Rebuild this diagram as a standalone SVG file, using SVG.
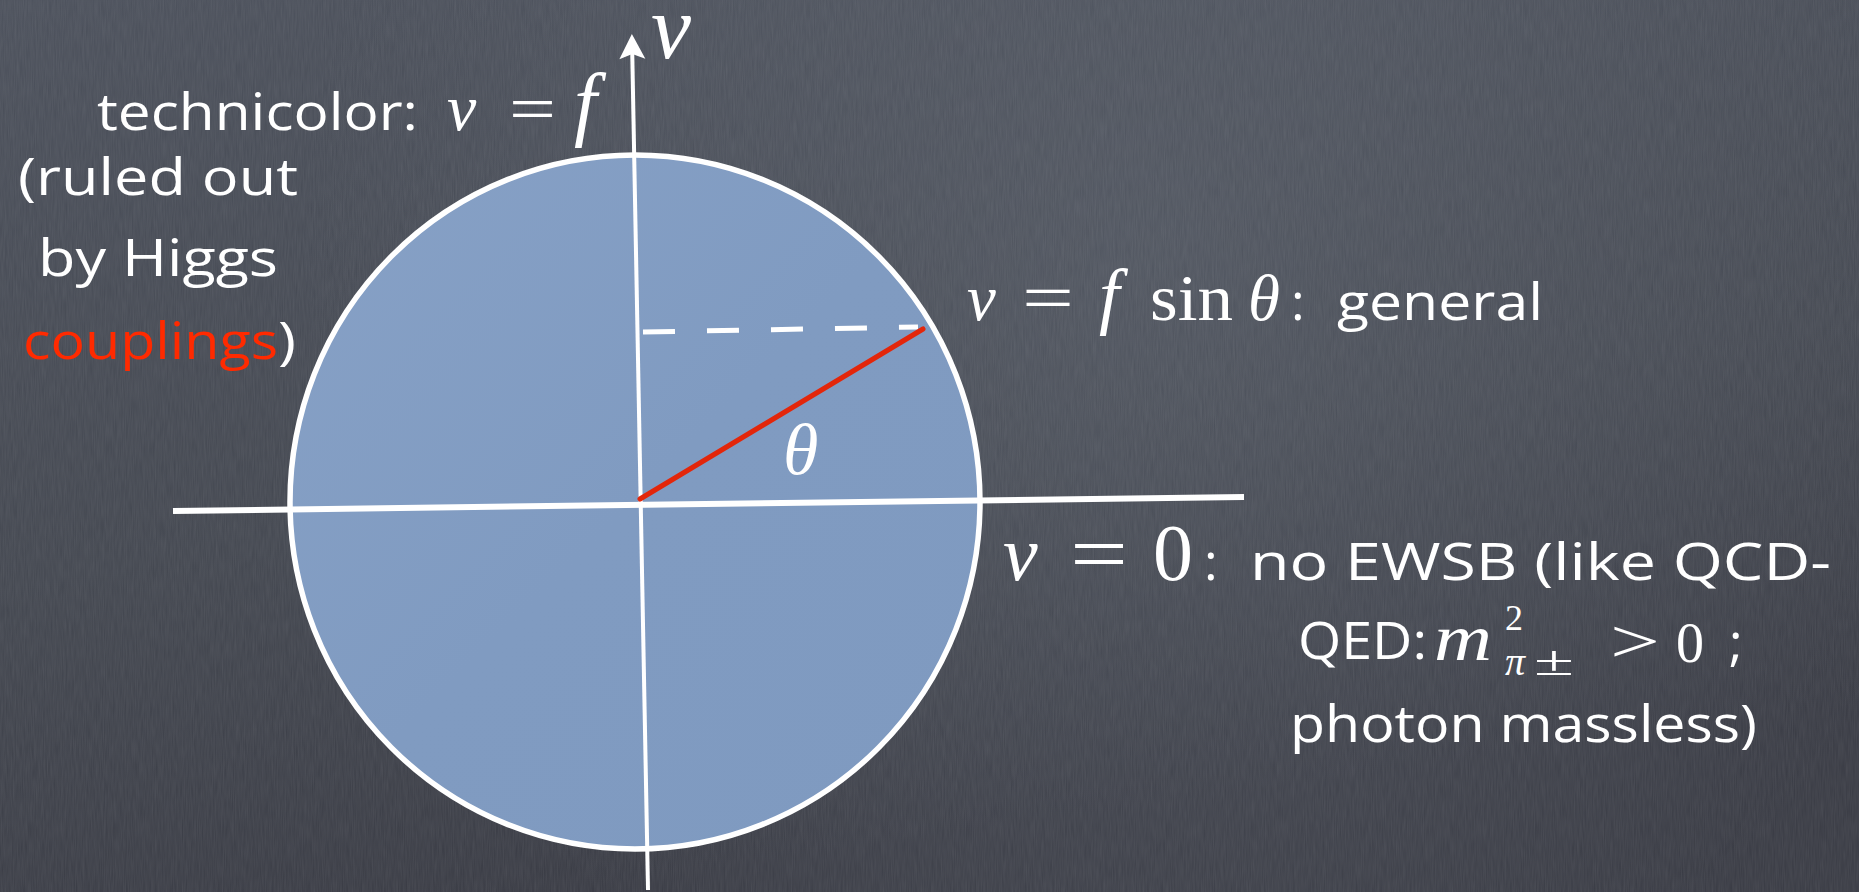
<svg xmlns="http://www.w3.org/2000/svg" width="1859" height="892" viewBox="0 0 1859 892">
  <defs>
    <linearGradient id="bg" x1="0" y1="0" x2="0.3" y2="1">
      <stop offset="0" stop-color="#4a4f5a"/>
      <stop offset="0.6" stop-color="#42464f"/>
      <stop offset="1" stop-color="#383a43"/>
    </linearGradient>
    <radialGradient id="glow" cx="1150" cy="250" r="850" gradientUnits="userSpaceOnUse">
      <stop offset="0" stop-color="#5a606b" stop-opacity="0.55"/>
      <stop offset="1" stop-color="#5a606b" stop-opacity="0"/>
    </radialGradient>
    <linearGradient id="disc" x1="0" y1="0" x2="1" y2="1">
      <stop offset="0" stop-color="#87a1c6"/>
      <stop offset="0.5" stop-color="#809bc1"/>
      <stop offset="1" stop-color="#7f9ac0"/>
    </linearGradient>
    <filter id="noise" x="0" y="0" width="100%" height="100%">
      <feTurbulence type="fractalNoise" baseFrequency="0.9 0.05" numOctaves="2" seed="3"/>
      <feColorMatrix type="matrix" values="0 0 0 0 1  0 0 0 0 1  0 0 0 0 1  0 0 0 0.09 0"/>
    </filter>
    <marker id="arrow" markerUnits="userSpaceOnUse" markerWidth="30" markerHeight="30" refX="22" refY="13" orient="auto" viewBox="0 0 30 26">
      <path d="M28,13 L3,0 L8,13 L3,26 Z" fill="#ffffff"/>
    </marker>
  </defs>
  <style>
    .chalk { font-family: "Open Sans", "Liberation Sans", sans-serif; fill: #ffffff; font-size: 52px; }
    .red { fill: #ff2a00; }
    .mi { font-family: "Liberation Serif", "DejaVu Serif", serif; font-style: italic; fill: #ffffff; }
    .mr { font-family: "Liberation Serif", "DejaVu Serif", serif; fill: #ffffff; }
    .axis { stroke: #ffffff; fill: none; }
  </style>

  <rect x="0" y="0" width="1859" height="892" fill="url(#bg)"/>
  <rect x="0" y="0" width="1859" height="892" fill="url(#glow)"/>
  <rect x="0" y="0" width="1859" height="892" filter="url(#noise)"/>

  <g id="circle">
    <ellipse cx="635" cy="502" rx="345" ry="347" fill="url(#disc)" stroke="#ffffff" stroke-width="5.5"/>
  </g>

  <g id="connectors">
    <line class="axis" x1="648" y1="890" x2="632" y2="40" stroke-width="4" marker-end="url(#arrow)"/>
    <line class="axis" x1="173" y1="511" x2="1244" y2="497" stroke-width="6"/>
    <line class="axis" x1="643" y1="332" x2="918" y2="327" stroke-width="5" stroke-dasharray="32 32"/>
    <line x1="640" y1="499" x2="923" y2="329" stroke="#e3260a" stroke-width="5" stroke-linecap="round"/>
  </g>

  <g id="label-v-axis">
    <text class="mi" x="651" y="58" font-size="90">v</text>
  </g>

  <g id="label-theta">
    <text class="mi" x="783" y="474" font-size="72">θ</text>
  </g>

  <g id="label-technicolor">
    <text class="chalk" x="97" y="130" textLength="321" lengthAdjust="spacingAndGlyphs">technicolor:</text>
    <text class="mi" x="447" y="130" font-size="66">v</text>
    <text class="mr" x="509" y="130" font-size="64" textLength="47" lengthAdjust="spacingAndGlyphs">=</text>
    <text class="mi" x="574" y="130" font-size="82">f</text>
  </g>

  <g id="label-ruled-out">
    <text class="chalk" x="18" y="195" textLength="280" lengthAdjust="spacingAndGlyphs">(ruled out</text>
    <text class="chalk" x="38" y="276" textLength="240" lengthAdjust="spacingAndGlyphs">by Higgs</text>
    <text class="chalk red" x="23" y="359" textLength="255" lengthAdjust="spacingAndGlyphs">couplings</text>
    <text class="chalk" x="278" y="359" textLength="18" lengthAdjust="spacingAndGlyphs">)</text>
  </g>

  <g id="label-general">
    <text class="mi" x="967" y="320" font-size="65">v</text>
    <text class="mr" x="1022" y="320" font-size="65" textLength="52" lengthAdjust="spacingAndGlyphs">=</text>
    <text class="mi" x="1099" y="320" font-size="74">f</text>
    <text class="mr" x="1150" y="320" font-size="65" textLength="83" lengthAdjust="spacingAndGlyphs">sin</text>
    <text class="mi" x="1248" y="320" font-size="65">θ</text>
    <text class="chalk" x="1291" y="320">:</text>
    <text class="chalk" x="1337" y="320" textLength="206" lengthAdjust="spacingAndGlyphs">general</text>
  </g>

  <g id="label-no-ewsb">
    <text class="mi" x="1003" y="580" font-size="78">v</text>
    <text class="mr" x="1070" y="580" font-size="78" textLength="58" lengthAdjust="spacingAndGlyphs">=</text>
    <text class="mr" x="1153" y="580" font-size="80">0</text>
    <text class="chalk" x="1204" y="580">:</text>
    <text class="chalk" x="1250" y="580" textLength="581" lengthAdjust="spacingAndGlyphs">no EWSB (like QCD-</text>
    <text class="chalk" x="1298" y="659" textLength="129" lengthAdjust="spacingAndGlyphs">QED:</text>
    <text class="mi" x="1434" y="660" font-size="66" textLength="58" lengthAdjust="spacingAndGlyphs">m</text>
    <text class="mr" x="1505" y="630" font-size="36">2</text>
    <text class="mi" x="1505" y="675" font-size="40">π</text>
    <text class="mr" x="1534" y="675" font-size="42" textLength="40" lengthAdjust="spacingAndGlyphs">±</text>
    <text class="mr" x="1610" y="662" font-size="62" textLength="50" lengthAdjust="spacingAndGlyphs">&gt;</text>
    <text class="mr" x="1676" y="662" font-size="56">0</text>
    <text class="chalk" x="1729" y="660">;</text>
    <text class="chalk" x="1290" y="742" textLength="467" lengthAdjust="spacingAndGlyphs">photon massless)</text>
  </g>
</svg>
